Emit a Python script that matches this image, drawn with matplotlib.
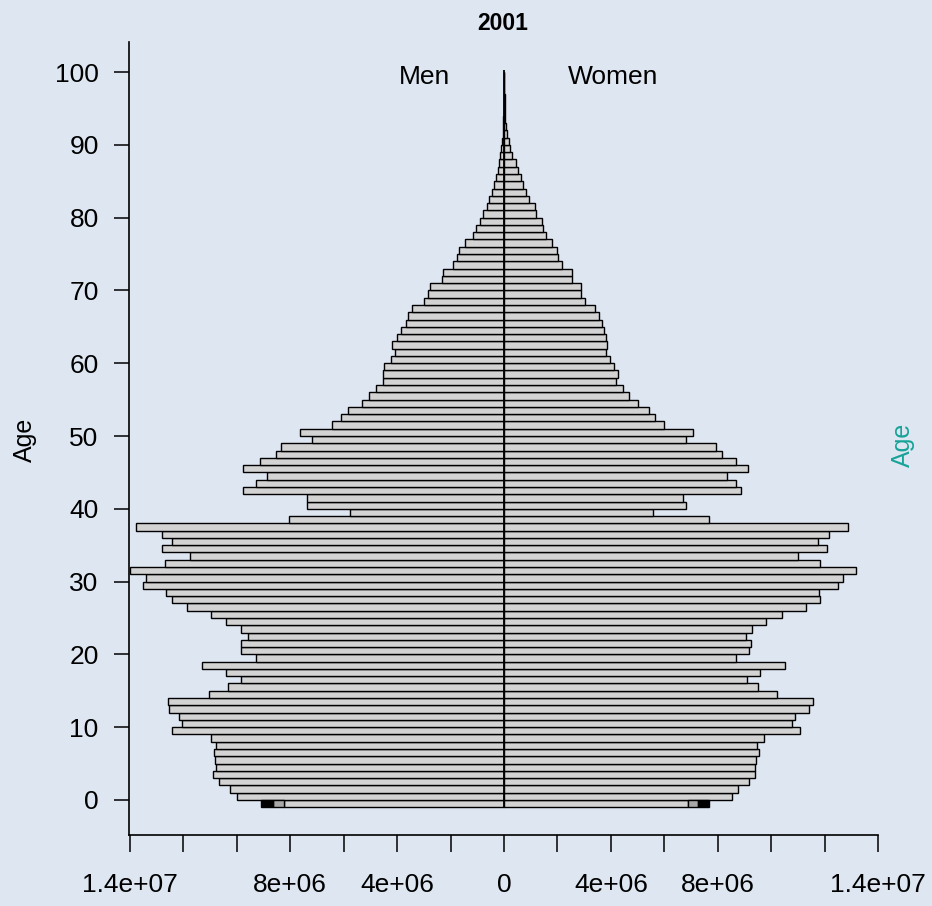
import numpy as np
import matplotlib
matplotlib.use('Agg')
import matplotlib.pyplot as plt
from matplotlib.ticker import FixedLocator, FixedFormatter

plt.rcParams['font.family'] = ['Liberation Sans', 'DejaVu Sans']

# ---- data (population in millions, bar index = age) ----
ages = np.arange(101)
men = [8.22, 10.01, 10.26, 10.67, 10.88, 10.78, 10.83, 10.87, 10.78, 10.98,
       12.43, 12.07, 12.17, 12.54, 12.59, 11.04, 10.32, 9.86, 10.42, 11.32,
       9.28, 9.86, 9.86, 9.59, 9.86, 10.41, 10.98, 11.87, 12.43, 12.64,
       13.53, 13.41, 13.99, 12.69, 11.74, 12.80, 12.44, 12.80, 13.78, 8.05,
       5.78, 7.39, 7.39, 9.76, 9.28, 8.88, 9.76, 9.13, 8.55, 8.36,
       7.18, 7.64, 6.44, 6.10, 5.83, 5.30, 5.05, 4.79, 4.52, 4.52,
       4.48, 4.24, 4.08, 4.18, 4.02, 3.86, 3.66, 3.59, 3.43, 2.98,
       2.83, 2.77, 2.33, 2.27, 1.92, 1.77, 1.67, 1.45, 1.15, 1.05,
       0.90, 0.80, 0.63, 0.55, 0.44, 0.37, 0.29, 0.24, 0.19, 0.15,
       0.11, 0.064, 0.049, 0.035, 0.025, 0.018, 0.012, 0.008, 0.005, 0.003, 0.002]
women = [6.90, 8.52, 8.77, 9.17, 9.40, 9.40, 9.43, 9.53, 9.48, 9.74,
         11.08, 10.79, 10.89, 11.41, 11.56, 10.21, 9.51, 9.09, 9.59, 10.52,
         8.67, 9.18, 9.24, 9.06, 9.28, 9.81, 10.40, 11.31, 11.83, 11.78,
         12.49, 12.68, 13.17, 11.83, 10.99, 12.08, 11.77, 12.18, 12.89, 7.69,
         5.58, 6.81, 6.69, 8.88, 8.67, 8.36, 9.12, 8.67, 8.15, 7.95,
         6.81, 7.08, 5.98, 5.64, 5.43, 5.01, 4.69, 4.44, 4.19, 4.26,
         4.12, 3.97, 3.83, 3.87, 3.82, 3.76, 3.67, 3.56, 3.41, 3.04,
         2.88, 2.88, 2.56, 2.55, 2.17, 2.03, 2.00, 1.81, 1.56, 1.47,
         1.41, 1.20, 1.17, 0.93, 0.82, 0.70, 0.63, 0.52, 0.45, 0.30,
         0.23, 0.20, 0.12, 0.075, 0.056, 0.04, 0.03, 0.02, 0.012, 0.008, 0.005]
men_age0_segments = [0.41, 0.46]
women_age0_segments = [0.37, 0.41]
segment_colors = ['#a9a9a9', 'black']

x_tick_values = [-14, -12, -10, -8, -6, -4, -2, 0, 2, 4, 6, 8, 10, 12, 14]
x_tick_text = {-14: '1.4e+07', -8: '8e+06', -4: '4e+06', 0: '0',
               4: '4e+06', 8: '8e+06', 14: '1.4e+07'}
y_tick_values = list(range(0, 101, 10))
title = '2001'
left_label, right_label = 'Men', 'Women'

# ---- figure ----
W, H = 932, 906
bg = '#dde6f1'
fig = plt.figure(figsize=(W / 100, H / 100), dpi=100)
fig.patch.set_facecolor(bg)
ax = fig.add_axes([128.5 / W, (H - 834.9) / H, (904.7 - 128.5) / W, (834.9 - 42.2) / H])
ax.set_facecolor(bg)

scale = 1e6
m = np.array(men) * scale
w = np.array(women) * scale
yc = ages - 0.5
bar_kw = dict(height=1, edgecolor='black', linewidth=1.0)
ax.barh(yc, -m, left=0, color='#d3d3d3', **bar_kw)
ax.barh(yc, w, left=0, color='#d3d3d3', **bar_kw)

left = -m[0]
for seg, col in zip(men_age0_segments, segment_colors):
    ax.barh(yc[0], -seg * scale, left=left, color=col, **bar_kw)
    left -= seg * scale
left = w[0]
for seg, col in zip(women_age0_segments, segment_colors):
    ax.barh(yc[0], seg * scale, left=left, color=col, **bar_kw)
    left += seg * scale

ax.plot([0, 0], [-1, 100.3], color='black', lw=1.3, solid_capstyle='butt')

ax.set_xlim(-14.056e6, 15.0e6)
ax.set_ylim(-4.8, 104.1)

for s in ['top', 'right']:
    ax.spines[s].set_visible(False)
for s in ['left', 'bottom']:
    ax.spines[s].set_linewidth(1.2)
ax.spines['bottom'].set_bounds(-14.056e6, 14e6)

xt = [v * scale for v in x_tick_values]
ax.xaxis.set_major_locator(FixedLocator(xt))
ax.xaxis.set_major_formatter(FixedFormatter([x_tick_text.get(v, '') for v in x_tick_values]))
ax.set_yticks(y_tick_values)
ax.set_yticklabels([str(v) for v in y_tick_values])
ax.tick_params(axis='x', length=12.5, width=1.1, pad=15, labelsize=19)
ax.tick_params(axis='y', length=11, width=1.1, pad=10.5, labelsize=19)

ax.text(-2.98e6, 98.35, left_label, ha='center', va='baseline', fontsize=19)
ax.text(4.07e6, 98.35, right_label, ha='center', va='baseline', fontsize=19)

fig.text(502.5 / W, 1 - 23 / H, title, ha='center', va='center', fontsize=16.5, fontweight='bold')
fig.text(25 / W, 1 - 440 / H, 'Age', rotation=90, ha='center', va='center', fontsize=18)
fig.text(903 / W, 1 - 445 / H, 'Age', rotation=90, ha='center', va='center', fontsize=18,
         color='#17a398')

fig.savefig('out.png', dpi=100, facecolor=bg)
